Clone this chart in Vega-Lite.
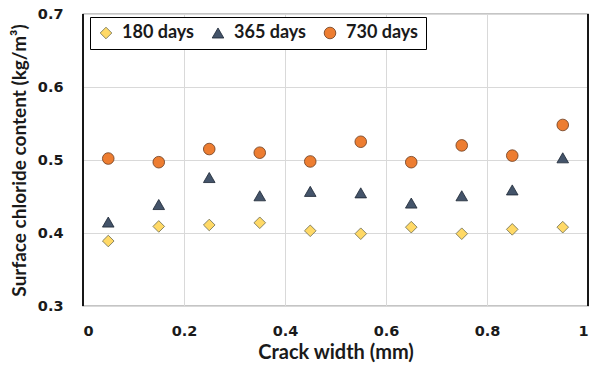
{
  "$schema": "https://vega.github.io/schema/vega-lite/v6.json",
  "width": 505,
  "height": 292,
  "autosize": "none",
  "padding": {"left": 83, "top": 14, "right": 14, "bottom": 68},
  "config": {
    "font": "DejaVu Sans",
    "view": {"stroke": "#8c8c8c", "strokeWidth": 1.3}
  },
  "data": {
    "values": [
      {"width": 0.05, "series": "180 days", "value": 0.389},
      {"width": 0.15, "series": "180 days", "value": 0.409},
      {"width": 0.25, "series": "180 days", "value": 0.411},
      {"width": 0.35, "series": "180 days", "value": 0.414},
      {"width": 0.45, "series": "180 days", "value": 0.403},
      {"width": 0.55, "series": "180 days", "value": 0.399},
      {"width": 0.65, "series": "180 days", "value": 0.408},
      {"width": 0.75, "series": "180 days", "value": 0.399},
      {"width": 0.85, "series": "180 days", "value": 0.405},
      {"width": 0.95, "series": "180 days", "value": 0.408},
      {"width": 0.05, "series": "365 days", "value": 0.415},
      {"width": 0.15, "series": "365 days", "value": 0.439},
      {"width": 0.25, "series": "365 days", "value": 0.476},
      {"width": 0.35, "series": "365 days", "value": 0.451},
      {"width": 0.45, "series": "365 days", "value": 0.457},
      {"width": 0.55, "series": "365 days", "value": 0.455},
      {"width": 0.65, "series": "365 days", "value": 0.441},
      {"width": 0.75, "series": "365 days", "value": 0.451},
      {"width": 0.85, "series": "365 days", "value": 0.459},
      {"width": 0.95, "series": "365 days", "value": 0.503},
      {"width": 0.05, "series": "730 days", "value": 0.502},
      {"width": 0.15, "series": "730 days", "value": 0.497},
      {"width": 0.25, "series": "730 days", "value": 0.515},
      {"width": 0.35, "series": "730 days", "value": 0.510},
      {"width": 0.45, "series": "730 days", "value": 0.498},
      {"width": 0.55, "series": "730 days", "value": 0.525},
      {"width": 0.65, "series": "730 days", "value": 0.497},
      {"width": 0.75, "series": "730 days", "value": 0.520},
      {"width": 0.85, "series": "730 days", "value": 0.506},
      {"width": 0.95, "series": "730 days", "value": 0.548}
    ]
  },
  "layer": [
    {
      "mark": {"type": "point", "filled": true, "opacity": 1, "size": 135, "strokeWidth": 0.8},
      "encoding": {
        "x": {
          "field": "width", "type": "quantitative",
          "scale": {"domain": [0, 1], "nice": false, "zero": false},
          "axis": {
            "values": [0, 0.2, 0.4, 0.6, 0.8, 1],
            "format": "~g",
            "title": "Crack width (mm)",
            "grid": true, "gridColor": "#d9d9d9", "gridWidth": 1,
            "domain": false, "ticks": false,
            "labelFont": "DejaVu Sans", "labelFontSize": 14.5, "labelFontWeight": "bold", "labelColor": "#1a1a1a",
            "labelPadding": 18,
            "titleFont": "Lato", "titleFontSize": 20, "titleFontWeight": "bold", "titleColor": "#1a1a1a",
            "titlePadding": 5
          }
        },
        "y": {
          "field": "value", "type": "quantitative",
          "scale": {"domain": [0.3, 0.7], "nice": false, "zero": false},
          "axis": {
            "values": [0.3, 0.4, 0.5, 0.6, 0.7],
            "format": ".1f",
            "title": "Surface chloride content (kg/m³)",
            "grid": true, "gridColor": "#d9d9d9", "gridWidth": 1,
            "domain": false, "ticks": false,
            "labelFont": "DejaVu Sans", "labelFontSize": 14.5, "labelFontWeight": "bold", "labelColor": "#1a1a1a",
            "labelPadding": 20,
            "titleFont": "Lato", "titleFontSize": 19, "titleFontWeight": "bold", "titleColor": "#1a1a1a",
            "titlePadding": 8
          }
        },
        "shape": {
          "field": "series", "type": "nominal",
          "scale": {"domain": ["180 days", "365 days", "730 days"], "range": ["diamond", "triangle-up", "circle"]},
          "legend": {
            "orient": "none", "legendX": 7, "legendY": 3,
            "direction": "horizontal", "title": null,
            "strokeColor": "#000", "fillColor": "#fff", "padding": 7,
            "labelFont": "Lato", "labelFontSize": 18, "labelFontWeight": "bold", "labelColor": "#1a1a1a",
            "labelOffset": 7, "columnPadding": 14,
            "symbolSize": 135, "symbolStrokeWidth": 0.8
          }
        },
        "fill": {
          "field": "series", "type": "nominal",
          "scale": {"domain": ["180 days", "365 days", "730 days"], "range": ["#FFD966", "#44546A", "#ED7D31"]},
          "legend": {
            "orient": "none", "legendX": 7, "legendY": 3,
            "direction": "horizontal", "title": null,
            "strokeColor": "#000", "fillColor": "#fff", "padding": 7,
            "labelFont": "Lato", "labelFontSize": 18, "labelFontWeight": "bold", "labelColor": "#1a1a1a",
            "labelOffset": 7, "columnPadding": 14,
            "symbolSize": 135, "symbolStrokeWidth": 0.8
          }
        },
        "stroke": {
          "field": "series", "type": "nominal",
          "scale": {"domain": ["180 days", "365 days", "730 days"], "range": ["#6b6b50", "#1c2633", "#6b3a1c"]},
          "legend": {
            "orient": "none", "legendX": 7, "legendY": 3,
            "direction": "horizontal", "title": null,
            "strokeColor": "#000", "fillColor": "#fff", "padding": 7,
            "labelFont": "Lato", "labelFontSize": 18, "labelFontWeight": "bold", "labelColor": "#1a1a1a",
            "labelOffset": 7, "columnPadding": 14,
            "symbolSize": 135, "symbolStrokeWidth": 0.8
          }
        }
      }
    },
    {
      "mark": {"type": "rule", "color": "#1a1a1a", "strokeWidth": 1.3},
      "encoding": {"x": {"datum": 1}}
    },
    {
      "mark": {"type": "rule", "color": "#1a1a1a", "strokeWidth": 1.3},
      "encoding": {"x": {"datum": 0}}
    }
  ]
}
